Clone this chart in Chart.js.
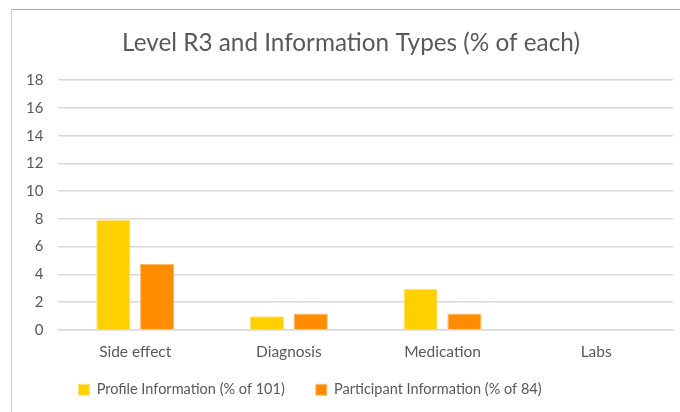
<!DOCTYPE html>
<html>
<head>
<meta charset="utf-8">
<script src="https://cdn.jsdelivr.net/npm/chart.js@4"></script>
<style>
  html, body { margin: 0; padding: 0; background: #fff; }
  #wrap { position: relative; width: 680px; height: 412px; }
  #frame {
    position: absolute; left: 11px; top: 9px; right: -5px; bottom: -5px;
    border-top: 1.5px solid #a6a6a6; border-left: 1.5px solid #d0d0d0;
  }
  canvas { position: absolute; left: 0; top: 0; }
</style>
</head>
<body>
<div id="wrap">
  <div id="frame"></div>
  <canvas id="myChart" width="680" height="412"></canvas>
</div>
<script>
// categories and series (% of each group)
var categories = ['Side effect', 'Diagnosis', 'Medication', 'Labs'];
var profileInfo = [7.92, 0.99, 2.97, 0];
var participantInfo = [4.76, 1.19, 1.19, 0];
var yTicks = [0, 2, 4, 6, 8, 10, 12, 14, 16, 18];

var fontFamily = 'Lato, "Open Sans", sans-serif';
var textColor = '#595959';

// moves legend and title after layout (the frame is wider than the canvas)
var legendShift = { x: -32, y: -15 };
var titleShift = 9;
var boxNudge = {
    id: 'boxNudge',
    afterLayout: function(chart) {
        var lg = chart.legend;
        lg.left += legendShift.x;
        lg.right += legendShift.x;
        lg.top += legendShift.y;
        lg.bottom += legendShift.y;
        var tb = chart.titleBlock;
        tb.left += titleShift;
        tb.right += titleShift;
    }
};

var ctx = document.getElementById('myChart').getContext('2d');

var myChart = new Chart(ctx, {
    type: 'bar',
    data: {
        labels: categories,
        datasets: [{
            label: 'Profile Information (% of 101)',
            data: profileInfo,
            backgroundColor: '#FFD000',
            borderColor: '#FFE27A',
            borderWidth: 1,
            categoryPercentage: 0.57,
            barPercentage: 0.78
        }, {
            label: 'Participant Information (% of 84)',
            data: participantInfo,
            backgroundColor: '#FF8C00',
            borderColor: '#FFBB70',
            borderWidth: 1,
            categoryPercentage: 0.57,
            barPercentage: 0.78
        }]
    },
    options: {
        responsive: false,
        animation: false,
        layout: {
            padding: { left: 11, right: 7, top: 8, bottom: -10 }
        },
        scales: {
            y: {
                min: 0,
                max: 18,
                afterBuildTicks: function(axis) {
                    axis.ticks = yTicks.map(function(v) { return { value: v }; });
                },
                border: { display: false },
                grid: {
                    color: '#d9d9d9',
                    lineWidth: 1.5,
                    drawTicks: false
                },
                ticks: {
                    color: textColor,
                    padding: 15,
                    font: { family: fontFamily, size: 15 }
                }
            },
            x: {
                border: { color: '#d9d9d9', width: 1.5 },
                grid: { display: false },
                ticks: {
                    color: textColor,
                    padding: 5,
                    font: { family: fontFamily, size: 15.5 }
                }
            }
        },
        plugins: {
            title: {
                display: true,
                text: 'Level R3 and Information Types (% of each)',
                color: textColor,
                font: { family: fontFamily, size: 24.3, weight: 'normal' },
                padding: { top: 21, bottom: 22 }
            },
            legend: {
                position: 'bottom',
                labels: {
                    color: textColor,
                    boxWidth: 11,
                    boxHeight: 11,
                    padding: 31,
                    font: { family: fontFamily, size: 14.5 }
                }
            },
            tooltip: { enabled: false }
        }
    },
    plugins: [boxNudge]
});
</script>
</body>
</html>
